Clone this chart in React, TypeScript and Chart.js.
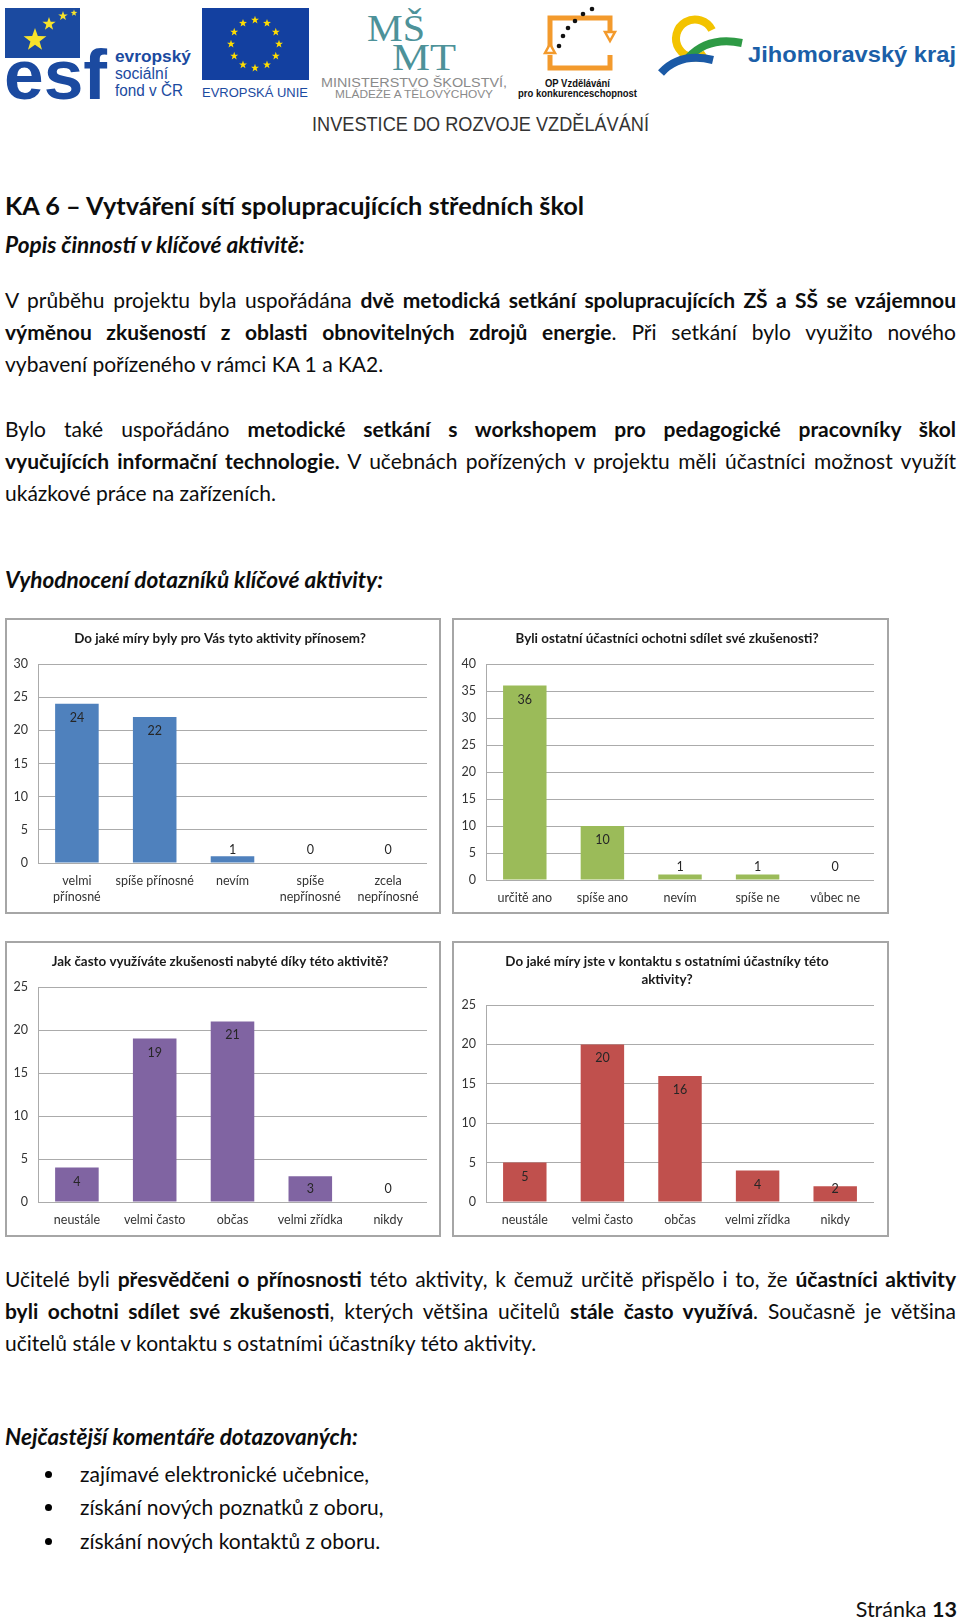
import React, { useEffect, useRef } from 'react';
import { Chart, registerables } from 'chart.js';

Chart.register(...registerables);

const FONT = 'Lato, "Open Sans", sans-serif';

// ---- chart data ----
const q1Title = ['Do jaké míry byly pro Vás tyto aktivity přínosem?'];
const q1Labels = [['velmi', 'přínosné'], 'spíše přínosné', 'nevím', ['spíše', 'nepřínosné'], ['zcela', 'nepřínosné']];
const q1Values = [24, 22, 1, 0, 0];
const q1Max = 30;

const q2Title = ['Byli ostatní účastníci ochotni sdílet své zkušenosti?'];
const q2Labels = ['určitě ano', 'spíše ano', 'nevím', 'spíše ne', 'vůbec ne'];
const q2Values = [36, 10, 1, 1, 0];
const q2Max = 40;

const q3Title = ['Jak často využíváte zkušenosti nabyté díky této aktivitě?'];
const q3Labels = ['neustále', 'velmi často', 'občas', 'velmi zřídka', 'nikdy'];
const q3Values = [4, 19, 21, 3, 0];
const q3Max = 25;

const q4Title = ['Do jaké míry jste v kontaktu s ostatními účastníky této', 'aktivity?'];
const q4Labels = ['neustále', 'velmi často', 'občas', 'velmi zřídka', 'nikdy'];
const q4Values = [5, 20, 16, 4, 2];
const q4Max = 25;

const yStep = 5;

const valueLabels = {
  id: 'valueLabels',
  afterDatasetsDraw(chart: any) {
    const ctx = chart.ctx;
    const meta = chart.getDatasetMeta(0);
    const data = chart.data.datasets[0].data;
    ctx.save();
    ctx.font = `12.5px ${FONT}`;
    ctx.fillStyle = '#262626';
    ctx.textAlign = 'center';
    ctx.textBaseline = 'middle';
    meta.data.forEach((bar: any, i: number) => {
      const y = Math.min(bar.y + 14, bar.base - 13);
      ctx.fillText(String(data[i]), bar.x, y);
    });
    ctx.restore();
  },
};

type BarProps = {
  left: number; top: number; width: number; height: number;
  plotLeft: number; plotRight: number; plotTop: number; plotBottom: number;
  title: string[]; labels: any[]; values: number[]; color: string; yMax: number;
};

function BarChart(p: BarProps) {
  const ref = useRef<HTMLCanvasElement>(null);
  useEffect(() => {
    const n = p.title.length;
    const side = p.width - p.plotRight;
    const padLeft = 8;
    const chart = new Chart(ref.current as HTMLCanvasElement, {
      type: 'bar',
      data: {
        labels: p.labels,
        datasets: [{ data: p.values, backgroundColor: p.color, borderWidth: 0, barPercentage: 0.56, categoryPercentage: 1 }],
      },
      options: {
        animation: false,
        responsive: false,
        maintainAspectRatio: false,
        devicePixelRatio: 1,
        layout: { padding: { left: padLeft, right: side, top: 0, bottom: 0 } },
        plugins: {
          legend: { display: false },
          tooltip: { enabled: false },
          title: {
            display: true,
            text: p.title,
            color: '#1a1a1a',
            font: { family: FONT, size: 13.4, weight: 'bold', lineHeight: '18px' } as any,
            padding: { top: 12, bottom: p.plotTop - 12 - 18 * n },
          },
        },
        scales: {
          x: {
            grid: { display: false, drawTicks: false },
            border: { display: false },
            ticks: {
              color: '#333333', padding: 10, autoSkip: false, maxRotation: 0,
              font: { family: FONT, size: 12.5, lineHeight: '16px' } as any,
            },
            afterFit: (s: any) => { s.height = p.height - p.plotBottom; },
          },
          y: {
            clip: false,
            min: 0, max: p.yMax,
            ticks: { stepSize: yStep, padding: 10, color: '#333333', font: { family: FONT, size: 12.5 } },
            grid: { color: '#ababab', drawTicks: false, lineWidth: 1 },
            border: { display: true, color: '#ababab' },
            afterFit: (s: any) => { s.width = p.plotLeft - padLeft; },
          },
        },
      },
      plugins: [valueLabels],
    } as any);
    return () => chart.destroy();
  }, []);
  return (
    <div style={{ position: 'absolute', left: p.left, top: p.top, width: p.width, height: p.height, background: '#fff' }}>
      <canvas ref={ref} width={p.width} height={p.height} style={{ position: 'absolute', left: 0, top: 0, width: p.width, height: p.height }} />
      <div style={{ position: 'absolute', left: 0, top: 0, width: p.width, height: p.height, border: '2px solid #a6a6a6', boxSizing: 'border-box', pointerEvents: 'none' }} />
    </div>
  );
}

const starPts = (cx: number, cy: number, r: number) => {
  const pts: string[] = [];
  for (let i = 0; i < 10; i++) {
    const a = -Math.PI / 2 + (i * Math.PI) / 5;
    const rr = i % 2 === 0 ? r : r * 0.4;
    pts.push(`${(cx + rr * Math.cos(a)).toFixed(2)},${(cy + rr * Math.sin(a)).toFixed(2)}`);
  }
  return pts.join(' ');
};

function Header() {
  const euStars = [];
  for (let i = 0; i < 12; i++) {
    const a = (i * Math.PI) / 6;
    euStars.push(<polygon key={i} points={starPts(255 + 24 * Math.cos(a), 44 + 24 * Math.sin(a), 4.2)} fill="#ffdd00" />);
  }
  const sans = 'Liberation Sans, Arial, sans-serif';
  return (
    <svg width={960} height={140} style={{ position: 'absolute', left: 0, top: 0 }}>
      {/* ESF */}
      <rect x={5} y={8} width={75} height={50} fill="#1b4aa0" />
      <polygon points={starPts(35, 40, 12)} fill="#f7e32b" />
      <polygon points={starPts(49, 24, 7)} fill="#f7e32b" />
      <polygon points={starPts(63, 16, 5)} fill="#f7e32b" />
      <polygon points={starPts(74, 13, 3.5)} fill="#f7e32b" />
      <text x={4} y={99} fontFamily={sans} fontWeight="bold" fontSize={70} fill="#1b4aa0" stroke="#fff" strokeWidth={2.5} paintOrder="stroke" textLength={103} lengthAdjust="spacingAndGlyphs">esf</text>
      <text x={115} y={62} fontFamily={sans} fontWeight="bold" fontSize={17} fill="#1b4aa0" textLength={76} lengthAdjust="spacingAndGlyphs">evropský</text>
      <text x={115} y={79} fontFamily={sans} fontSize={16} fill="#1b4aa0" textLength={53} lengthAdjust="spacingAndGlyphs">sociální</text>
      <text x={115} y={96} fontFamily={sans} fontSize={16} fill="#1b4aa0" textLength={68} lengthAdjust="spacingAndGlyphs">fond v ČR</text>
      {/* EU */}
      <rect x={202} y={8} width={107} height={72} fill="#1340a0" />
      {euStars}
      <text x={202} y={97} fontFamily={sans} fontSize={13} fill="#1b4aa0" textLength={106} lengthAdjust="spacingAndGlyphs">EVROPSKÁ UNIE</text>
      {/* MSMT */}
      <text x={367} y={41} fontFamily="Liberation Serif, serif" fontSize={38} fill="#4d9299" textLength={58} lengthAdjust="spacingAndGlyphs">MŠ</text>
      <text x={392} y={70} fontFamily="Liberation Serif, serif" fontSize={38} fill="#4d9299" textLength={64} lengthAdjust="spacingAndGlyphs">MT</text>
      <text x={321} y={87} fontFamily={sans} fontSize={12} fill="#8a8a8a" textLength={186} lengthAdjust="spacingAndGlyphs">MINISTERSTVO ŠKOLSTVÍ,</text>
      <text x={335} y={98} fontFamily={sans} fontSize={10.5} fill="#8a8a8a" textLength={158} lengthAdjust="spacingAndGlyphs">MLÁDEŽE A TĚLOVÝCHOVY</text>
      {/* OP VK */}
      <g fill="none" stroke="#f39a2c" strokeWidth={5}>
        <path d="M550 53 V18 H610 V32" />
        <path d="M550 55 V68 H610 V55" />
      </g>
      <polygon points="605,32 615,32 610,41" fill="#fff" stroke="#f39a2c" strokeWidth={2.5} />
      <polygon points="545,53 555,53 550,44" fill="#fff" stroke="#f39a2c" strokeWidth={2.5} />
      {[[559, 46], [563, 36], [568, 28], [575, 21], [583, 14], [592, 9]].map(([x, y], i) => (
        <circle key={i} cx={x} cy={y} r={2.3} fill="#111" />
      ))}
      <text x={545} y={87} fontFamily={sans} fontWeight="bold" fontSize={10} fill="#111" textLength={65} lengthAdjust="spacingAndGlyphs">OP Vzdělávání</text>
      <text x={518} y={97} fontFamily={sans} fontWeight="bold" fontSize={10} fill="#111" textLength={119} lengthAdjust="spacingAndGlyphs">pro konkurenceschopnost</text>
      {/* JMK */}
      <path d="M706 54 A19 19 0 1 1 712 30" fill="none" stroke="#f3c300" strokeWidth={8} />
      <path d="M688 58 Q708 36 742 43" fill="none" stroke="#2e9a45" strokeWidth={8} />
      <path d="M661 73 Q680 52 713 60" fill="none" stroke="#1b5aa6" strokeWidth={8} />
      <text x={748} y={62} fontFamily={sans} fontWeight="bold" fontSize={22} fill="#1b5fa8" textLength={208} lengthAdjust="spacingAndGlyphs">Jihomoravský kraj</text>
      {/* investice */}
      <text x={312} y={131} fontFamily={sans} fontSize={21} fill="#333" textLength={337} lengthAdjust="spacingAndGlyphs">INVESTICE DO ROZVOJE VZDĚLÁVÁNÍ</text>
    </svg>
  );
}

const BODY = 21;
const BI = 22.6;
const LH = 30;

function Line(props: { y: number; justify?: boolean; x?: number; size?: number; bold?: boolean; italic?: boolean; children: any }) {
  const x = props.x ?? 5;
  const size = props.size ?? BODY;
  return (
    <div
      style={{
        position: 'absolute',
        left: x,
        top: props.y - LH / 2,
        width: 956 - x,
        height: LH,
        lineHeight: `${LH}px`,
        fontSize: size,
        fontFamily: FONT,
        fontWeight: props.bold ? 'bold' : 'normal',
        fontStyle: props.italic ? 'italic' : 'normal',
        color: '#0d0d0d',
        whiteSpace: props.justify ? 'normal' : 'nowrap',
        textAlign: props.justify ? 'justify' : 'left',
        textAlignLast: props.justify ? 'justify' : 'auto',
      } as any}
    >
      {props.children}
    </div>
  );
}

export default function App() {
  return (
    <div style={{ position: 'absolute', left: 0, top: 0, width: 960, height: 1624, background: '#fff', overflow: 'hidden' }}>
      <Header />
      <Line y={205} bold size={25.3}>KA 6 – Vytváření sítí spolupracujících středních škol</Line>
      <Line y={245} bold italic size={BI}>Popis činností v klíčové aktivitě:</Line>

      <Line y={300} justify>V průběhu projektu byla uspořádána <b>dvě metodická setkání spolupracujících ZŠ a SŠ se vzájemnou</b></Line>
      <Line y={332} justify><b>výměnou zkušeností z oblasti obnovitelných zdrojů energie</b>. Při setkání bylo využito nového</Line>
      <Line y={364}>vybavení pořízeného v rámci KA 1 a KA2.</Line>

      <Line y={429} justify>Bylo také uspořádáno <b>metodické setkání s workshopem pro pedagogické pracovníky škol</b></Line>
      <Line y={461} justify><b>vyučujících informační technologie.</b> V učebnách pořízených v projektu měli účastníci možnost využít</Line>
      <Line y={493}>ukázkové práce na zařízeních.</Line>

      <Line y={580} bold italic size={BI}>Vyhodnocení dotazníků klíčové aktivity:</Line>

      <BarChart left={5} top={618} width={436} height={296} plotLeft={33} plotRight={422} plotTop={46} plotBottom={245}
        title={q1Title} labels={q1Labels} values={q1Values} color="#4f81bd" yMax={q1Max} />
      <BarChart left={452} top={618} width={437} height={296} plotLeft={34} plotRight={422} plotTop={46} plotBottom={262}
        title={q2Title} labels={q2Labels} values={q2Values} color="#9bbb59" yMax={q2Max} />
      <BarChart left={5} top={941} width={436} height={296} plotLeft={33} plotRight={422} plotTop={46} plotBottom={261}
        title={q3Title} labels={q3Labels} values={q3Values} color="#8064a2" yMax={q3Max} />
      <BarChart left={452} top={941} width={437} height={296} plotLeft={34} plotRight={422} plotTop={64} plotBottom={261}
        title={q4Title} labels={q4Labels} values={q4Values} color="#c0504d" yMax={q4Max} />

      <Line y={1279} justify>Učitelé byli <b>přesvědčeni o přínosnosti</b> této aktivity, k čemuž určitě přispělo i to, že <b>účastníci aktivity</b></Line>
      <Line y={1311} justify><b>byli ochotni sdílet své zkušenosti</b>, kterých většina učitelů <b>stále často využívá</b>. Současně je většina</Line>
      <Line y={1343}>učitelů stále v kontaktu s ostatními účastníky této aktivity.</Line>

      <Line y={1437} bold italic size={BI}>Nejčastější komentáře dotazovaných:</Line>
      {[1474, 1507, 1541].map((y) => (
        <div key={y} style={{ position: 'absolute', left: 45, top: y - 3, width: 7, height: 7, borderRadius: '50%', background: '#000' }} />
      ))}
      <Line y={1474} x={80}>zajímavé elektronické učebnice,</Line>
      <Line y={1507} x={80}>získání nových poznatků z oboru,</Line>
      <Line y={1541} x={80}>získání nových kontaktů z oboru.</Line>

      <div style={{ position: 'absolute', right: 3, top: 1609 - LH / 2, height: LH, lineHeight: `${LH}px`, fontFamily: FONT, fontSize: 21.5, color: '#111', whiteSpace: 'nowrap' }}>
        Stránka <b>13</b>
      </div>
    </div>
  );
}
